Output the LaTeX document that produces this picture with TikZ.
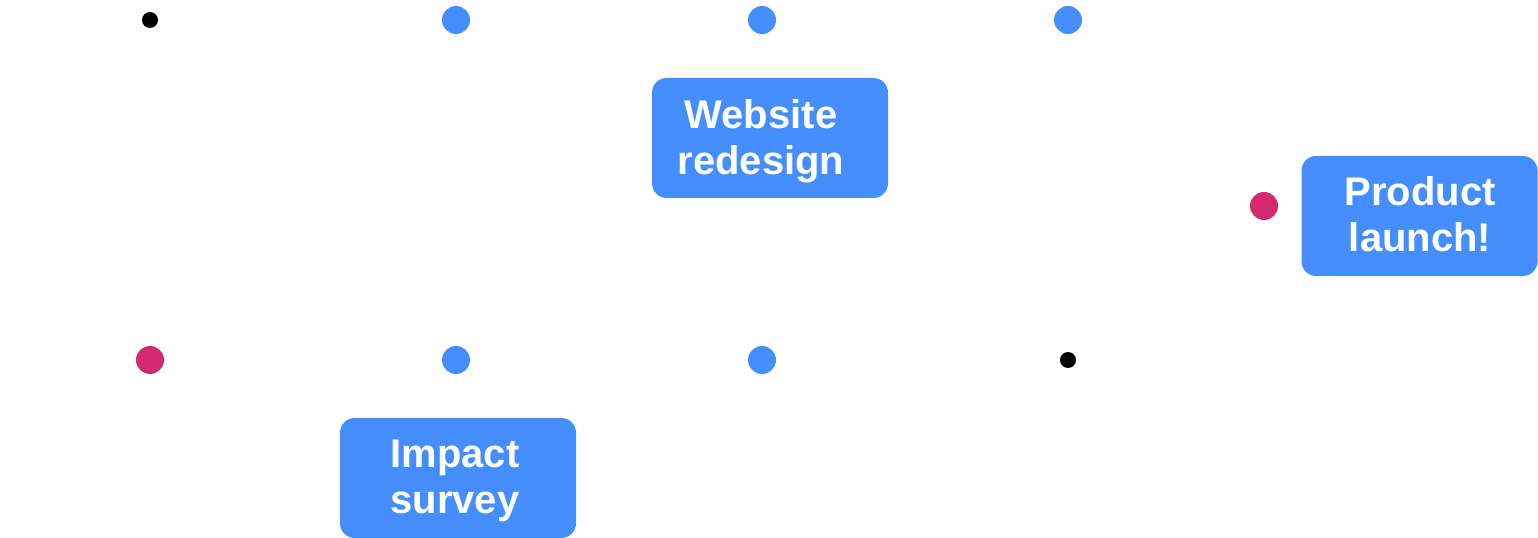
\documentclass[tikz,border=0pt]{standalone}
\usepackage{fontspec}
\setmainfont{Liberation Sans}
\definecolor{dotblue}{RGB}{68,142,255}
\definecolor{dotred}{RGB}{210,41,111}
\begin{document}
\begin{tikzpicture}[x=0.75pt,y=-0.75pt,
  bigdot/.style={circle,inner sep=0pt,minimum size=21pt},
  bluedot/.style={bigdot,fill=dotblue},
  reddot/.style={bigdot,fill=dotred},
  smalldot/.style={circle,inner sep=0pt,minimum size=12pt,fill=black},
  card/.style={rectangle,rounded corners=11pt,fill=dotblue,inner sep=0pt,minimum width=177pt,minimum height=90pt},
  cardtext/.style={text=white,align=center,inner sep=0pt,font=\fontsize{30pt}{34.5pt}\selectfont\bfseries}]
\useasboundingbox (0,0) rectangle (1538,538);
% top row
\node[smalldot] (t1) at (150,20) {};
\node[bluedot] (t2) at (456,20) {};
\node[bluedot] (t3) at (762,20) {};
\node[bluedot] (t4) at (1068,20) {};
% bottom row
\node[reddot] (b1) at (150,360) {};
\node[bluedot] (b2) at (456,360) {};
\node[bluedot] (b3) at (762,360) {};
\node[smalldot] (b4) at (1068,360) {};
% right dot
\node[reddot] (r1) at (1264,206) {};
% cards
\node[card] (web) at (770,138) {};
\node[cardtext] (webtext) at (761,141) {Website\\redesign};
\node[card] (prod) at (1419.5,216) {};
\node[cardtext] (prodtext) at (1420,214) {Product\\launch!};
\node[card] (imp) at (458,478) {};
\node[cardtext] (imptext) at (455,481) {Impact\\survey};
\end{tikzpicture}
\end{document}
